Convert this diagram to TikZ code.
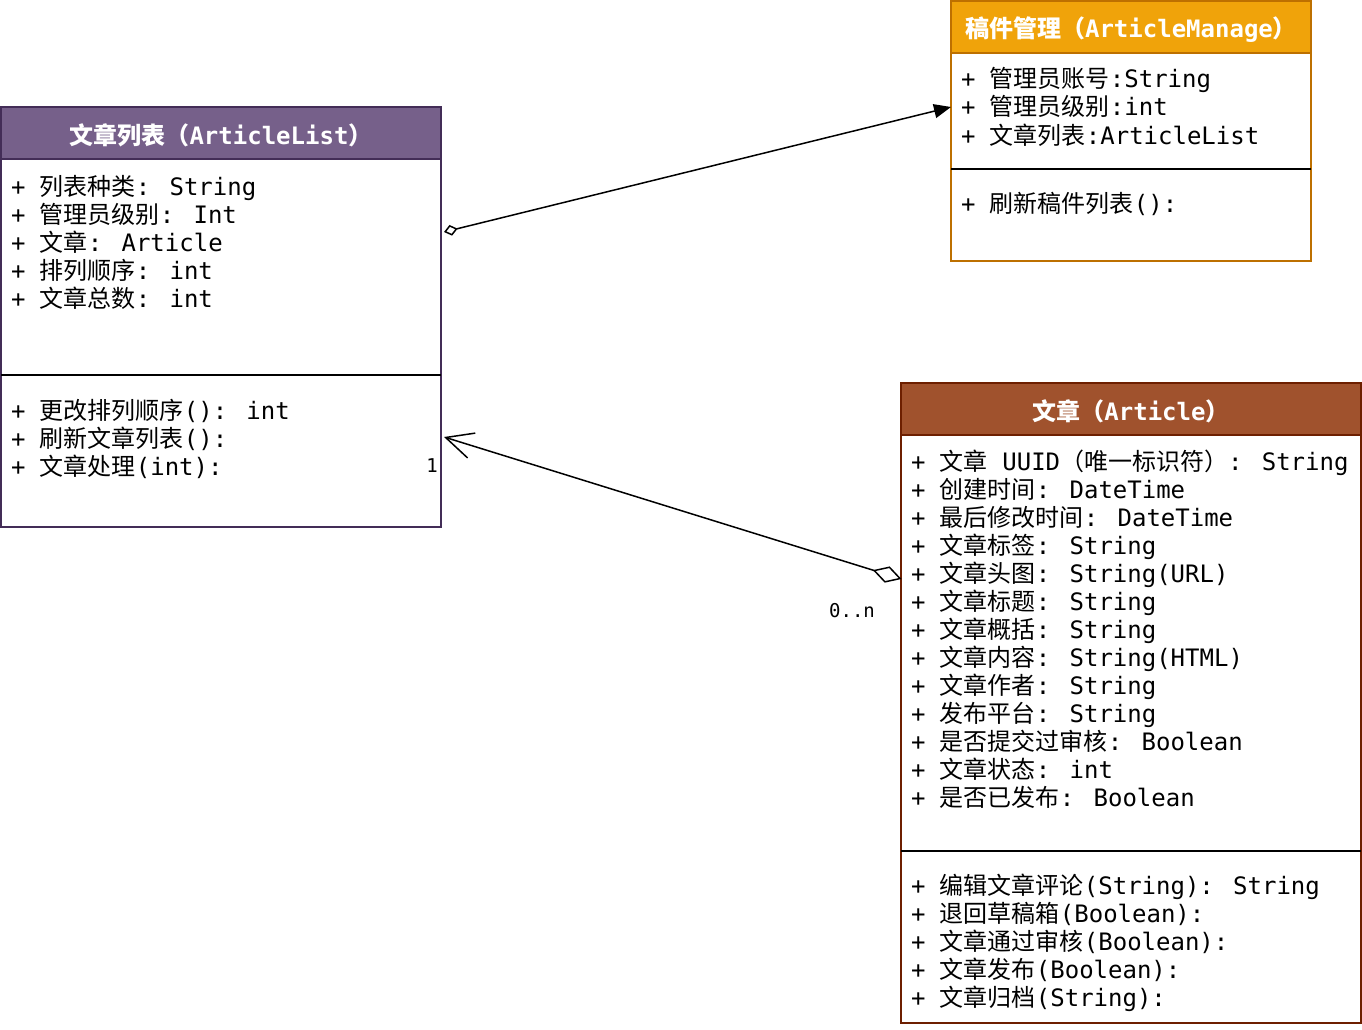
\documentclass[tikz,border=0pt]{standalone}
\usepackage{fontspec}
\setmainfont{DejaVu Sans Mono}
\newfontfamily\zh{Noto Sans CJK SC}
\newcommand\cn[1]{\zh #1\normalfont}
\usetikzlibrary{arrows.meta}
\definecolor{plfill}{HTML}{76608A}
\definecolor{plline}{HTML}{432D57}
\definecolor{orfill}{HTML}{F0A30A}
\definecolor{orline}{HTML}{BD7000}
\definecolor{brfill}{HTML}{A0522D}
\definecolor{brline}{HTML}{6D1F00}
\tikzset{
  every node/.style={inner sep=0pt, outer sep=0pt},
  txt/.style={anchor=base west, font=\fontsize{24}{28}\selectfont},
  headtxt/.style={anchor=base, text=white, font=\fontsize{24}{28}\selectfont\bfseries},
  bodybox/.style={draw=#1, line width=1.3pt, fill=white, anchor=north west},
  headbox/.style 2 args={draw=#1, fill=#2, line width=1.3pt, anchor=north west},
  divider/.style={line width=1.3pt, black},
  conn/.style={line width=1.5pt, black},
  mult/.style={font=\fontsize{19}{22}\selectfont}
}
\begin{document}
\begin{tikzpicture}[x=1pt,y=-1pt]
\useasboundingbox (0,0) rectangle (1362,1030);

% ArticleList
\node[bodybox=plline, minimum width=440pt, minimum height=368pt] (alb) at (1,159) {};
\node[headbox={plline}{plfill}, minimum width=440pt, minimum height=52pt] (alh) at (1,107) {};
\node[headtxt] (alt) at (221,144) {\zh 文章列表（\normalfont\bfseries ArticleList\zh ）};
\draw[divider] ([yshift=-216pt]alb.north west) -- ([yshift=-216pt]alb.north east);
\foreach \t [count=\i] in {{+ \cn{列表种类}: String},{+ \cn{管理员级别}: Int},{+ \cn{文章}: Article},{+ \cn{排列顺序}: int},{+ \cn{文章总数}: int}}
  \node[txt] (ala\i) at (11,{195+28*(\i-1)}) {\t};
\foreach \t [count=\i] in {{+ \cn{更改排列顺序}(): int},{+ \cn{刷新文章列表}():},{+ \cn{文章处理}(int):}}
  \node[txt] (alm\i) at (11,{419+28*(\i-1)}) {\t};

% ArticleManage
\node[bodybox=orline, minimum width=360pt, minimum height=208pt] (amb) at (951,53) {};
\node[headbox={orline}{orfill}, minimum width=360pt, minimum height=52pt] (amh) at (951,1) {};
\node[headtxt] (amt) at (1131,38) {\zh 稿件管理（\normalfont\bfseries ArticleManage\zh ）};
\draw[divider] ([yshift=-116pt]amb.north west) -- ([yshift=-116pt]amb.north east);
\foreach \t [count=\i] in {{+ \cn{管理员账号}:String},{+ \cn{管理员级别}:int},{+ \cn{文章列表}:ArticleList}}
  \node[txt] (ama\i) at (961,{88+28*(\i-1)}) {\t};
\node[txt] (amm1) at (961,212) {+ \cn{刷新稿件列表}():};

% Article
\node[bodybox=brline, minimum width=460pt, minimum height=588pt] (arb) at (901,435) {};
\node[headbox={brline}{brfill}, minimum width=460pt, minimum height=52pt] (arh) at (901,383) {};
\node[headtxt] (art) at (1131,420) {\zh 文章（\normalfont\bfseries Article\zh ）};
\draw[divider] ([yshift=-416pt]arb.north west) -- ([yshift=-416pt]arb.north east);
\foreach \t [count=\i] in {{+ \cn{文章} UUID\cn{（唯一标识符）}: String},{+ \cn{创建时间}: DateTime},{+ \cn{最后修改时间}: DateTime},{+ \cn{文章标签}: String},{+ \cn{文章头图}: String(URL)},{+ \cn{文章标题}: String},{+ \cn{文章概括}: String},{+ \cn{文章内容}: String(HTML)},{+ \cn{文章作者}: String},{+ \cn{发布平台}: String},{+ \cn{是否提交过审核}: Boolean},{+ \cn{文章状态}: int},{+ \cn{是否已发布}: Boolean}}
  \node[txt] (ara\i) at (911,{470+28*(\i-1)}) {\t};
\foreach \t [count=\i] in {{+ \cn{编辑文章评论}(String): String},{+ \cn{退回草稿箱}(Boolean):},{+ \cn{文章通过审核}(Boolean):},{+ \cn{文章发布}(Boolean):},{+ \cn{文章归档}(String):}}
  \node[txt] (arm\i) at (911,{894+28*(\i-1)}) {\t};

% connectors
\draw[conn, {Diamond[open,length=14pt,width=11pt]}-{Triangle[length=17pt,width=14pt]}]
  ([xshift=3pt,yshift=-73pt]alb.north east) -- ([yshift=-54pt]amb.north west);
\draw[conn, {Diamond[open,length=30pt,width=17pt]}-{Straight Barb[length=27pt,width=26pt]}]
  ([xshift=0.5pt,yshift=-144pt]arb.north west) -- ([xshift=3pt,yshift=-278pt]alb.north east);
\node[mult] (m1) at (432,466) {1};
\node[mult] (m2) at (852,611) {0..n};
\end{tikzpicture}
\end{document}
